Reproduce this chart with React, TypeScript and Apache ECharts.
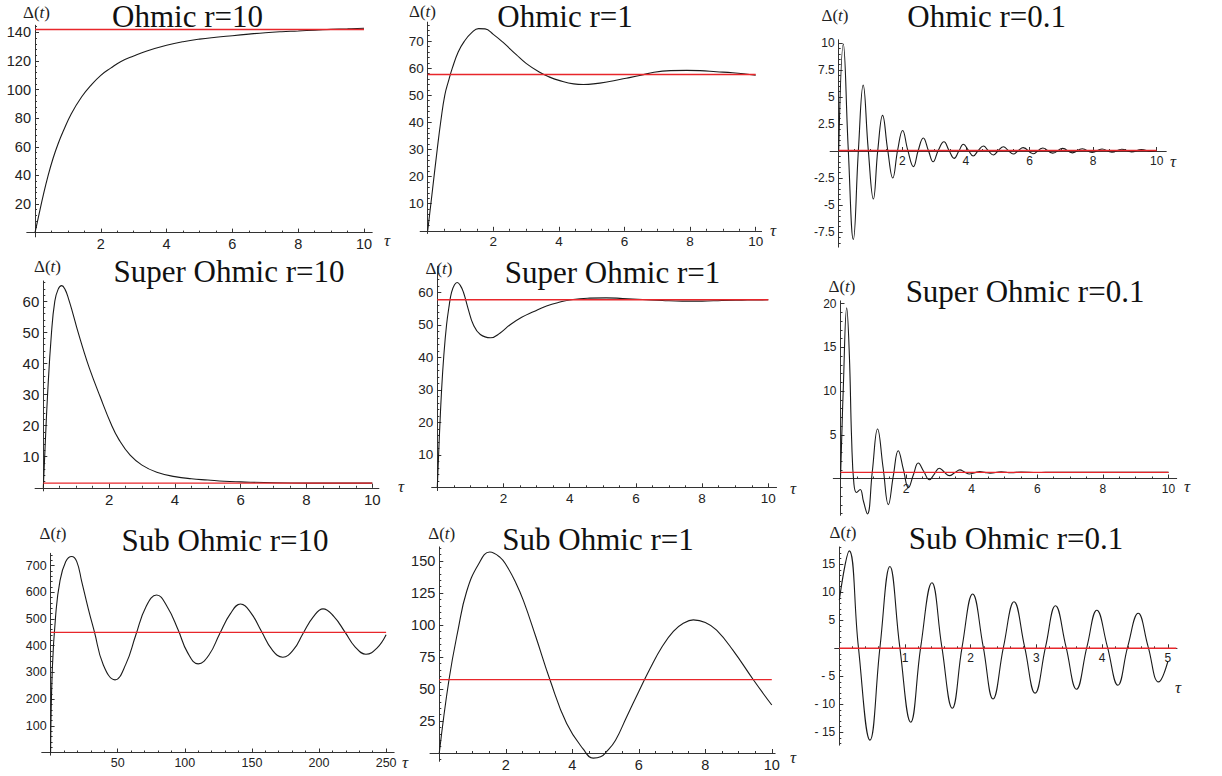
import React, { useEffect, useRef } from "react";
import * as echarts from "echarts";

// ---------- data ----------
// Ohmic r=10
const ohmic10T = [0, 0.1, 0.25, 0.4, 0.55, 0.7, 0.86, 1.1, 1.42, 1.7, 2.0, 2.3, 2.6, 3.0, 3.4, 4.0, 4.5, 5.0, 5.5, 6.0, 6.5, 7.0, 7.5, 8.0, 8.5, 9.0, 9.5, 10.0];
const ohmic10D = [0, 10.5, 26, 40, 52, 62, 71, 83, 95, 103, 110, 115, 119.5, 123.5, 127, 131, 133.5, 135.3, 136.6, 137.7, 138.8, 139.8, 140.5, 141, 141.6, 142.1, 142.5, 142.9];
const ohmic10EqT = [0, 10];
const ohmic10EqD = [142, 142];

// Ohmic r=1
const ohmic1T = [0, 0.15, 0.29, 0.4, 0.52, 0.64, 0.75, 0.93, 1.12, 1.35, 1.55, 1.75, 2.0, 2.3, 2.7, 3.0, 3.4, 3.7, 4.0, 4.45, 4.75, 5.05, 5.5, 6.05, 6.5, 6.9, 7.4, 7.9, 8.3, 8.8, 9.3, 10];
const ohmic1D = [0, 15.5, 30, 40.5, 50, 55.5, 60, 66, 70, 73.2, 74.6, 74.5, 72.5, 69.5, 65, 61.8, 58.6, 56.8, 55.5, 54.2, 54.0, 54.2, 55.0, 56.3, 57.4, 58.5, 59.1, 59.2, 59.1, 58.7, 58.3, 57.4];
const ohmic1EqT = [0, 10];
const ohmic1EqD = [57.7, 57.7];

// Ohmic r=0.1
const ohmic01T = [0, 0.145, 0.30, 0.46, 0.62, 0.77, 0.93, 1.09, 1.23, 1.38, 1.54, 1.70, 1.855, 2.01, 2.17, 2.35, 2.50, 2.66, 2.82, 2.97, 3.13, 3.31, 3.47, 3.63, 3.78, 3.92, 4.08, 4.23, 4.39, 4.55, 4.7, 4.86, 5.02, 5.18, 5.33, 5.49, 5.65, 5.80, 6.11, 6.42, 6.73, 7.04, 7.35, 7.66, 7.97, 8.28, 8.59, 8.9, 9.21, 9.52, 9.83, 10];
const ohmic01D = [0, 9.9, 0.2, -8.2, 0.1, 6.1, 0.1, -4.45, 0.1, 3.3, 0.1, -2.5, 0.1, 1.9, 0.1, -1.45, 0.05, 1.2, 0.05, -1.0, 0.05, 0.85, 0.05, -0.68, 0.0, 0.62, 0.05, -0.46, 0.05, 0.46, 0.05, -0.37, 0.05, 0.4, 0.05, -0.28, 0.05, 0.31, -0.25, 0.28, -0.2, 0.24, -0.17, 0.21, -0.14, 0.18, -0.11, 0.16, -0.08, 0.14, -0.05, 0.05];
const ohmic01EqT = [0, 10];
const ohmic01EqD = [0.05, 0.05];

// Super Ohmic r=10
const super10T = [0, 0.05, 0.13, 0.25, 0.35, 0.45, 0.56, 0.66, 0.76, 0.9, 1.03, 1.2, 1.4, 1.72, 2.06, 2.3, 2.64, 3.0, 3.45, 4.0, 4.5, 5.0, 5.5, 6.0, 7.0, 8.0, 9.0, 10.0];
const super10D = [0, 12, 30, 50, 60, 63.8, 65, 63.8, 61, 56, 51, 45, 38.5, 29.5, 20.5, 15.5, 10.5, 7.3, 5, 3.6, 2.9, 2.5, 2.1, 1.9, 1.6, 1.5, 1.5, 1.5];
const super10EqT = [0, 10];
const super10EqD = [1.5, 1.5];

// Super Ohmic r=1
const super1T = [0, 0.06, 0.13, 0.2, 0.28, 0.36, 0.43, 0.52, 0.6, 0.69, 0.79, 0.93, 1.09, 1.3, 1.61, 1.9, 2.2, 2.55, 2.9, 3.3, 3.71, 4.1, 4.6, 5.1, 5.6, 6.2, 6.8, 7.4, 8.0, 8.6, 9.2, 10];
const super1D = [0, 15, 30, 41, 50, 56, 60, 62.3, 63, 62.2, 60, 55, 50, 47, 46, 47.5, 50, 52.3, 54, 55.8, 57, 57.8, 58.2, 58.3, 58.1, 57.8, 57.5, 57.3, 57.3, 57.5, 57.6, 57.7];
const super1EqT = [0, 10];
const super1EqD = [57.7, 57.7];

// Super Ohmic r=0.1
const super01T = [0, 0.085, 0.19, 0.27, 0.34, 0.41, 0.49, 0.6, 0.7, 0.82, 0.97, 1.13, 1.3, 1.46, 1.61, 1.76, 1.92, 2.07, 2.22, 2.37, 2.54, 2.71, 2.86, 3.01, 3.16, 3.32, 3.48, 3.64, 3.78, 3.93, 4.1, 4.25, 4.4, 4.56, 4.9, 5.2, 5.5, 6.0, 6.5, 7.0, 8.0, 9.0, 10];
const super01D = [0, 10.3, 19.5, 14.1, 4.4, -0.65, -1.6, -1.25, -2.6, -4.05, 0.8, 5.66, 1.2, -2.98, 0.3, 3.17, 1.0, -1.04, 0.4, 1.77, 0.8, -0.14, 0.5, 1.18, 0.75, 0.33, 0.65, 0.99, 0.75, 0.52, 0.66, 0.8, 0.7, 0.6, 0.78, 0.66, 0.74, 0.68, 0.72, 0.7, 0.7, 0.71, 0.7];
const super01EqT = [0, 10];
const super01EqD = [0.7, 0.7];

// Sub Ohmic r=10
const sub10T = [0, 1.3, 3.8, 6.9, 11.3, 15.7, 19.5, 23.2, 28, 32.6, 39.3, 48, 56, 63.5, 71, 79, 87, 95, 102, 110, 118, 126, 134, 141.5, 149, 157, 165, 173, 181, 188, 196, 203, 211, 219.5, 227, 235, 243, 250];
const sub10D = [0, 316, 515, 640, 715, 734, 715, 640, 540, 453, 328, 272, 330, 440, 545, 590, 545, 460, 375, 332, 365, 445, 520, 556, 525, 455, 385, 357, 385, 445, 510, 538, 510, 450, 395, 368, 390, 441];
const sub10EqT = [0, 250];
const sub10EqD = [450, 450];

// Sub Ohmic r=1
const sub1T = [0, 0.29, 0.57, 0.82, 1.17, 1.52, 1.82, 2.02, 2.3, 2.53, 2.9, 3.33, 3.83, 4.33, 4.63, 4.85, 5.03, 5.3, 5.63, 6.0, 6.34, 6.7, 7.04, 7.35, 7.64, 8.0, 8.34, 8.84, 9.45, 10];
const sub1D = [0, 57, 97, 126, 147, 157, 153, 146.5, 133, 119, 91, 57, 23, 3, -4, -3, 1, 10, 28, 48, 66, 83, 95, 101.5, 104, 102, 96, 80, 57, 37.5];
const sub1EqT = [0, 10];
const sub1EqD = [57.3, 57.3];

// Sub Ohmic r=0.1
const sub01T = [0, 0.152, 0.29, 0.467, 0.62, 0.77, 0.92, 1.087, 1.24, 1.41, 1.56, 1.72, 1.87, 2.03, 2.19, 2.34, 2.50, 2.66, 2.82, 2.98, 3.14, 3.29, 3.45, 3.61, 3.77, 3.92, 4.08, 4.24, 4.39, 4.55, 4.70, 4.86, 5.0];
const sub01D = [8.6, 17.4, 0.3, -16.4, 0.3, 14.6, 0.3, -13.2, 0.3, 11.7, 0.3, -10.7, 0.3, 9.7, 0.3, -9.05, 0.3, 8.3, 0.3, -8.0, 0.3, 7.6, 0.3, -7.3, 0.3, 6.8, 0.3, -6.6, 0.3, 6.25, 0.3, -6.0, -2.4];
const sub01EqT = [0, 5.13];
const sub01EqD = [0, 0];

// ---------- tick labels ----------
const tauTicks10 = [2, 4, 6, 8, 10];
const tauTicks250 = [50, 100, 150, 200, 250];
const tauTicks5 = [1, 2, 3, 4, 5];
const ohmic10YTicks = [20, 40, 60, 80, 100, 120, 140];
const ohmic1YTicks = [10, 20, 30, 40, 50, 60, 70];
const ohmic01YTicks = [-7.5, -5, -2.5, 2.5, 5, 7.5, 10];
const super10YTicks = [10, 20, 30, 40, 50, 60];
const super1YTicks = [10, 20, 30, 40, 50, 60];
const super01YTicks = [5, 10, 15, 20];
const sub10YTicks = [100, 200, 300, 400, 500, 600, 700];
const sub1YTicks = [25, 50, 75, 100, 125, 150];
const sub01YTicks = [-15, -10, -5, 5, 10, 15];

const titles = [
  "Ohmic r=10", "Ohmic r=1", "Ohmic r=0.1",
  "Super Ohmic r=10", "Super Ohmic r=1", "Super Ohmic r=0.1",
  "Sub Ohmic r=10", "Sub Ohmic r=1", "Sub Ohmic r=0.1",
];

const panelData = [
  { t: ohmic10T, d: ohmic10D, eqT: ohmic10EqT, eqD: ohmic10EqD, xTicks: tauTicks10, yTicks: ohmic10YTicks },
  { t: ohmic1T, d: ohmic1D, eqT: ohmic1EqT, eqD: ohmic1EqD, xTicks: tauTicks10, yTicks: ohmic1YTicks },
  { t: ohmic01T, d: ohmic01D, eqT: ohmic01EqT, eqD: ohmic01EqD, xTicks: tauTicks10, yTicks: ohmic01YTicks },
  { t: super10T, d: super10D, eqT: super10EqT, eqD: super10EqD, xTicks: tauTicks10, yTicks: super10YTicks },
  { t: super1T, d: super1D, eqT: super1EqT, eqD: super1EqD, xTicks: tauTicks10, yTicks: super1YTicks },
  { t: super01T, d: super01D, eqT: super01EqT, eqD: super01EqD, xTicks: tauTicks10, yTicks: super01YTicks },
  { t: sub10T, d: sub10D, eqT: sub10EqT, eqD: sub10EqD, xTicks: tauTicks250, yTicks: sub10YTicks },
  { t: sub1T, d: sub1D, eqT: sub1EqT, eqD: sub1EqD, xTicks: tauTicks10, yTicks: sub1YTicks },
  { t: sub01T, d: sub01D, eqT: sub01EqT, eqD: sub01EqD, xTicks: tauTicks5, yTicks: sub01YTicks },
];

// ---------- layout / axis configuration ----------
type Layout = {
  x0: number; xs: number; y0: number; ys: number;
  xMin: number; xMax: number; yMin: number; yMax: number;
  xStep: number; xSplit: number; yStep: number; ySplit: number;
  font: number; negSpace?: boolean;
  title: [number, number]; delta: [number, number]; tau: [number, number];
};

const layouts: Layout[] = [
  { x0: 35, xs: 32.9, y0: 232.6, ys: 1.43, xMin: -0.25, xMax: 10.25, yMin: -3, yMax: 145, xStep: 2, xSplit: 4, yStep: 20, ySplit: 5, font: 14.5, title: [187.5, 16], delta: [36.5, 12.5], tau: [387, 240] },
  { x0: 427.7, xs: 32.8, y0: 230.8, ys: 2.71, xMin: -0.23, xMax: 10.18, yMin: -1, yMax: 77, xStep: 2, xSplit: 4, yStep: 10, ySplit: 5, font: 13.5, title: [565, 16], delta: [422.5, 11], tau: [773, 230] },
  { x0: 838.7, xs: 31.8, y0: 151, ys: 10.8, xMin: -0.27, xMax: 10.3, yMin: -8.9, yMax: 10.3, xStep: 2, xSplit: 4, yStep: 2.5, ySplit: 5, font: 12, title: [986.7, 16], delta: [835, 15], tau: [1173, 161] },
  { x0: 43.3, xs: 32.9, y0: 487.8, ys: 3.11, xMin: -0.25, xMax: 10.2, yMin: -1, yMax: 66.5, xStep: 2, xSplit: 4, yStep: 10, ySplit: 5, font: 15, title: [229, 271], delta: [47.5, 266], tau: [401, 486] },
  { x0: 437.3, xs: 33.1, y0: 487.3, ys: 3.25, xMin: -0.17, xMax: 10.25, yMin: -1, yMax: 68, xStep: 2, xSplit: 4, yStep: 10, ySplit: 5, font: 13.5, title: [612.5, 272], delta: [439, 268], tau: [793, 488] },
  { x0: 840.5, xs: 32.8, y0: 478.5, ys: 8.75, xMin: -0.22, xMax: 10.25, yMin: -4.2, yMax: 20.3, xStep: 2, xSplit: 4, yStep: 5, ySplit: 5, font: 12, title: [1025, 291], delta: [842, 286], tau: [1187, 486] },
  { x0: 50.6, xs: 1.342, y0: 752.5, ys: 0.267, xMin: -6.6, xMax: 256, yMin: -10, yMax: 746, xStep: 50, xSplit: 5, yStep: 100, ySplit: 5, font: 12.5, title: [225, 540], delta: [53, 533], tau: [405, 762] },
  { x0: 439.3, xs: 33.25, y0: 753, ys: 1.28, xMin: -0.28, xMax: 10.1, yMin: -6.5, yMax: 161, xStep: 2, xSplit: 4, yStep: 25, ySplit: 5, font: 14.5, title: [598, 539], delta: [441.7, 533], tau: [793, 757] },
  { x0: 839.3, xs: 65.7, y0: 648.3, ys: 5.6, xMin: -0.07, xMax: 5.14, yMin: -17.3, yMax: 18.1, xStep: 1, xSplit: 5, yStep: 5, ySplit: 5, font: 12, negSpace: true, title: [1016, 538], delta: [843, 532], tau: [1178, 687] },
];

const SANS = '"Liberation Sans", Arial, Helvetica, sans-serif';
const SERIF = '"Liberation Serif", "Times New Roman", serif';
const AXIS_COLOR = "#333";
const LABEL_COLOR = "#222";

function buildOption() {
  const grid: any[] = [];
  const xAxis: any[] = [];
  const yAxis: any[] = [];
  const series: any[] = [];
  const elements: any[] = [];

  layouts.forEach((L, i) => {
    const P = panelData[i];
    grid.push({
      left: L.x0 + L.xMin * L.xs,
      top: L.y0 - L.yMax * L.ys,
      width: (L.xMax - L.xMin) * L.xs,
      height: (L.yMax - L.yMin) * L.ys,
      containLabel: false,
      outerBoundsMode: "none",
    });
    const lineStyle = { color: AXIS_COLOR, width: 1 };
    const fmt = (v: number) => (L.negSpace && v < 0 ? "- " + Math.abs(v) : String(v));
    xAxis.push({
      type: "value",
      gridIndex: i,
      position: "bottom",
      // place the axis (line, ticks and labels) at value 0 of the y axis
      offset: L.yMin * L.ys,
      min: L.xMin,
      max: L.xMax,
      minInterval: L.xStep,
      maxInterval: L.xStep,
      axisLine: { show: true, onZero: false, lineStyle },
      axisTick: { show: true, inside: true, length: 4, customValues: P.xTicks, lineStyle },
      minorTick: { show: true, splitNumber: L.xSplit, length: 2, lineStyle },
      axisLabel: { show: true, customValues: P.xTicks, formatter: fmt, fontFamily: SANS, fontSize: L.font, color: LABEL_COLOR, margin: 4 },
      splitLine: { show: false },
      minorSplitLine: { show: false },
    });
    yAxis.push({
      type: "value",
      gridIndex: i,
      position: "left",
      // place the axis at value 0 of the x axis
      offset: L.xMin * L.xs,
      min: L.yMin,
      max: L.yMax,
      minInterval: L.yStep,
      maxInterval: L.yStep,
      axisLine: { show: true, onZero: false, lineStyle },
      axisTick: { show: true, inside: true, length: 4, customValues: P.yTicks, lineStyle },
      minorTick: { show: true, splitNumber: L.ySplit, length: 2, lineStyle },
      axisLabel: { show: true, customValues: P.yTicks, formatter: fmt, fontFamily: SANS, fontSize: L.font, color: LABEL_COLOR, margin: 4 },
      splitLine: { show: false },
      minorSplitLine: { show: false },
    });
    series.push({
      type: "line",
      xAxisIndex: i,
      yAxisIndex: i,
      data: P.t.map((x, j) => [x, P.d[j]]),
      showSymbol: false,
      symbol: "none",
      smooth: 0.45,
      silent: true,
      lineStyle: { color: "#1a1a1a", width: 1.1 },
      z: 2,
    });
    series.push({
      type: "line",
      xAxisIndex: i,
      yAxisIndex: i,
      data: P.eqT.map((x, j) => [x, P.eqD[j]]),
      showSymbol: false,
      symbol: "none",
      silent: true,
      lineStyle: { color: "#e8262b", width: 1.4 },
      z: 3,
    });
    elements.push({
      type: "text",
      x: L.title[0],
      y: L.title[1],
      silent: true,
      style: {
        text: titles[i],
        fontFamily: SERIF,
        fontSize: 31,
        fill: "#111",
        align: "center",
        verticalAlign: "middle",
        textAlign: "center",
        textVerticalAlign: "middle",
      },
    });
    elements.push({
      type: "text",
      x: L.delta[0],
      y: L.delta[1],
      silent: true,
      style: {
        text: "{a|Δ(}{b|t}{a|)}",
        rich: {
          a: { fontFamily: SERIF, fontSize: 17, fill: "#222" },
          b: { fontFamily: SERIF, fontSize: 17, fontStyle: "italic", fill: "#222" },
        },
        align: "center",
        verticalAlign: "middle",
        textAlign: "center",
        textVerticalAlign: "middle",
      },
    });
    elements.push({
      type: "text",
      x: L.tau[0],
      y: L.tau[1],
      silent: true,
      style: {
        text: "τ",
        fontFamily: SERIF,
        fontSize: 17,
        fontStyle: "italic",
        fill: "#222",
        align: "center",
        verticalAlign: "middle",
        textAlign: "center",
        textVerticalAlign: "middle",
      },
    });
  });

  return {
    animation: false,
    backgroundColor: "#ffffff",
    grid,
    xAxis,
    yAxis,
    series,
    graphic: { elements },
  };
}

export default function App() {
  const ref = useRef<HTMLDivElement>(null);
  useEffect(() => {
    if (!ref.current) return;
    const chart = echarts.init(ref.current, null, { renderer: "svg", width: 1222, height: 776 });
    chart.setOption(buildOption() as any);
    return () => chart.dispose();
  }, []);
  return (
    <div
      ref={ref}
      style={{ position: "fixed", left: 0, top: 0, width: 1222, height: 776, background: "#fff" }}
    />
  );
}
